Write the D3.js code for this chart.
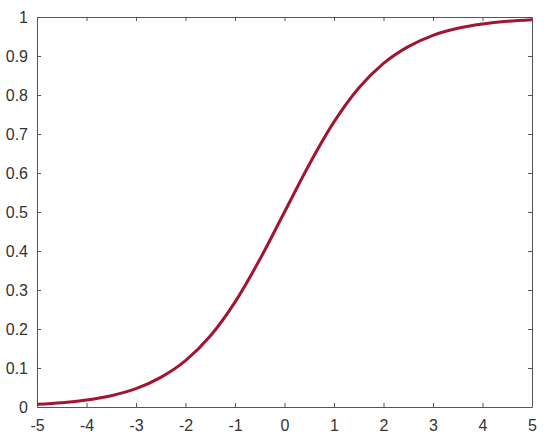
<!DOCTYPE html>
<html>
<head>
<meta charset="utf-8">
<script src="https://cdn.jsdelivr.net/npm/d3@7"></script>
<style>
  body { margin: 0; background: #fff; }
  text { font-family: "Liberation Sans", Arial, sans-serif; }
</style>
</head>
<body>
<div id="chart"></div>
<script>
// values
const xVals = [-5, -4.5, -4, -3.5, -3, -2.5, -2, -1.5, -1, -0.5, 0, 0.5, 1, 1.5, 2, 2.5, 3, 3.5, 4, 4.5, 5];
const yVals = [0.007, 0.011, 0.018, 0.029, 0.047, 0.076, 0.119, 0.182, 0.269, 0.378, 0.5, 0.622, 0.731, 0.818, 0.881, 0.924, 0.953, 0.971, 0.982, 0.989, 0.993];
const xTicks = ['-5', '-4', '-3', '-2', '-1', '0', '1', '2', '3', '4', '5'];
const yTicks = ['0', '0.1', '0.2', '0.3', '0.4', '0.5', '0.6', '0.7', '0.8', '0.9', '1'];

const svgWidth = 550;
const svgHeight = 444;
const margin = {top: 17, right: 18, bottom: 37, left: 37};
const width = svgWidth - margin.left - margin.right;
const height = svgHeight - margin.top - margin.bottom;

const svg = d3.select('#chart').append('svg')
    .attr('width', svgWidth)
    .attr('height', svgHeight);

const g = svg.append('g')
    .attr('transform', `translate(${margin.left}, ${margin.top})`);

const x = d3.scaleLinear().domain([-5, 5]).range([0, width]);
const y = d3.scaleLinear().domain([0, 1]).range([height, 0]);

const axisColor = '#555';
const xTickNums = xTicks.map(Number);
const yTickNums = yTicks.map(Number);

// bottom axis, ticks pointing in
const xAxis = g.append('g')
    .attr('transform', `translate(0, ${height})`)
    .call(d3.axisBottom(x).tickValues(xTickNums).tickSizeInner(-4).tickSizeOuter(0).tickPadding(13)
        .tickFormat((d, i) => xTicks[i]));

const yAxis = g.append('g')
    .call(d3.axisLeft(y).tickValues(yTickNums).tickSizeInner(-4).tickSizeOuter(0).tickPadding(9)
        .tickFormat((d, i) => yTicks[i]));

// top and right axes (ticks only)
const xTop = g.append('g')
    .call(d3.axisTop(x).tickValues(xTickNums).tickSizeInner(-4).tickSizeOuter(0).tickFormat(''));
const yRight = g.append('g')
    .attr('transform', `translate(${width}, 0)`)
    .call(d3.axisRight(y).tickValues(yTickNums).tickSizeInner(-4).tickSizeOuter(0).tickFormat(''));

[xAxis, yAxis, xTop, yRight].forEach(a => {
  a.selectAll('path').attr('stroke', axisColor).attr('stroke-width', 1);
  a.selectAll('line').attr('stroke', axisColor);
  a.selectAll('text').attr('fill', '#333').style('font-size', '16px');
});

const line = d3.line()
    .x((d, i) => x(xVals[i]))
    .y(d => y(d))
    .curve(d3.curveMonotoneX);

g.append('path')
    .datum(yVals)
    .attr('fill', 'none')
    .attr('stroke', '#a2142f')
    .attr('stroke-width', 3)
    .attr('d', line);
</script>
</body>
</html>
